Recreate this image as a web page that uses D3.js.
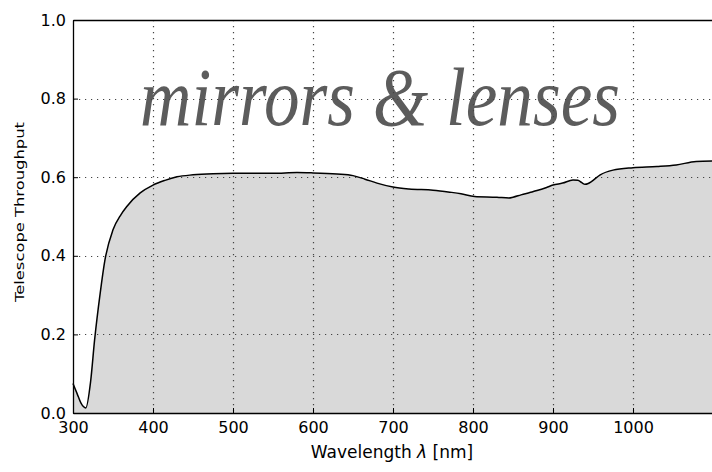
<!DOCTYPE html>
<html>
<head>
<meta charset="utf-8">
<script src="https://cdn.jsdelivr.net/npm/d3@7"></script>
<style>
  body { margin: 0; background: #fff; }
  svg text { font-family: "DejaVu Sans", sans-serif; }
</style>
</head>
<body>
<svg id="chart" width="712" height="472"></svg>
<script>
// wavelength (nm) and throughput
const wavelength = [300, 305, 310, 316, 322, 327, 334, 340, 350, 360, 367, 384, 400, 415, 430, 450, 475, 500, 550, 580, 600, 630, 650, 665, 680, 700, 720, 750, 771, 785, 802, 830, 845, 850, 860, 871, 880, 892, 900, 912, 925, 931, 936, 940, 944, 948, 959, 975, 1000, 1030, 1054, 1079, 1100];
const throughput = [0.075, 0.05, 0.025, 0.013, 0.08, 0.186, 0.305, 0.39, 0.466, 0.505, 0.525, 0.56, 0.58, 0.592, 0.601, 0.606, 0.609, 0.61, 0.61, 0.612, 0.611, 0.608, 0.604, 0.595, 0.585, 0.575, 0.57, 0.567, 0.562, 0.558, 0.551, 0.549, 0.547, 0.549, 0.555, 0.561, 0.566, 0.574, 0.58, 0.585, 0.593, 0.592, 0.586, 0.582, 0.584, 0.589, 0.606, 0.618, 0.624, 0.627, 0.631, 0.64, 0.641];

const xTicks = [300, 400, 500, 600, 700, 800, 900, 1000];
const yTicks = [0.0, 0.2, 0.4, 0.6, 0.8, 1.0];
const title = "mirrors & lenses";

const margin = { left: 73, right: -1, top: 20, bottom: 59 };
const W = 712, H = 472;
const svg = d3.select("#chart");

const x = d3.scaleLinear().domain([300, 1100]).range([margin.left, W - margin.right]);
const y = d3.scaleLinear().domain([0, 1]).range([H - margin.bottom, margin.top]);

const data = wavelength.map((w, i) => ({ w, t: throughput[i] }));

// fill under curve
svg.append("path")
  .datum(data)
  .attr("fill", "#d9d9d9")
  .attr("d", d3.area().x(d => x(d.w)).y0(y(0)).y1(d => y(d.t)).curve(d3.curveMonotoneX));

// big label
svg.append("text")
  .attr("x", 140).attr("y", 125)
  .style("font-family", "'Liberation Serif', serif")
  .style("font-style", "italic")
  .style("font-size", "82px")
  .attr("textLength", 480)
  .attr("lengthAdjust", "spacingAndGlyphs")
  .attr("fill", "#5c5c5c")
  .text(title);

// grid
const grid = svg.append("g").attr("stroke", "#444").attr("stroke-width", 1.2).attr("stroke-dasharray", "1.2,4.8");
grid.selectAll(".gx").data(xTicks.slice(1)).join("line")
  .attr("x1", d => x(d) + 0.5).attr("x2", d => x(d) + 0.5)
  .attr("y1", y(1)).attr("y2", y(0));
grid.selectAll(".gy").data(yTicks.slice(1, -1)).join("line")
  .attr("y1", d => Math.round(y(d)) + 0.5).attr("y2", d => Math.round(y(d)) + 0.5)
  .attr("x1", x(300)).attr("x2", x(1100));

// curve
svg.append("path")
  .datum(data)
  .attr("fill", "none").attr("stroke", "#000").attr("stroke-width", 1.5)
  .attr("d", d3.line().x(d => x(d.w)).y(d => y(d.t)).curve(d3.curveMonotoneX));

// axes (ticks inside)
const xAxis = svg.append("g").attr("transform", `translate(0,${y(0)})`)
  .call(d3.axisBottom(x).tickValues(xTicks).tickSizeInner(-5).tickSizeOuter(0).tickPadding(9).tickFormat(d3.format("d")));
const xTop = svg.append("g").attr("transform", `translate(0,${y(1)})`)
  .call(d3.axisTop(x).tickValues([]).tickSizeOuter(0));
const yAxis = svg.append("g").attr("transform", `translate(${x(300)},0)`)
  .call(d3.axisLeft(y).tickValues(yTicks).tickSizeInner(-5).tickSizeOuter(0).tickPadding(7).tickFormat(d3.format(".1f")));

[xAxis, xTop, yAxis].forEach(g => {
  g.select(".domain").attr("stroke", "#000").attr("stroke-width", 1.3);
  g.selectAll(".tick line").attr("stroke", "#000");
  g.selectAll("text").style("font-family", "'DejaVu Sans', sans-serif").style("font-size", "16px").attr("fill", "#000");
});

// axis titles
const xt = svg.append("text")
  .attr("x", 392).attr("y", 458)
  .attr("text-anchor", "middle")
  .style("font-size", "17px");
xt.append("tspan").text("Wavelength ");
xt.append("tspan").style("font-style", "italic").text("λ");
xt.append("tspan").text(" [nm]");

svg.append("text")
  .attr("transform", `translate(24,212) rotate(-90)`)
  .attr("text-anchor", "middle")
  .style("font-size", "13px")
  .attr("textLength", 180)
  .attr("lengthAdjust", "spacingAndGlyphs")
  .text("Telescope Throughput");
</script>
</body>
</html>
